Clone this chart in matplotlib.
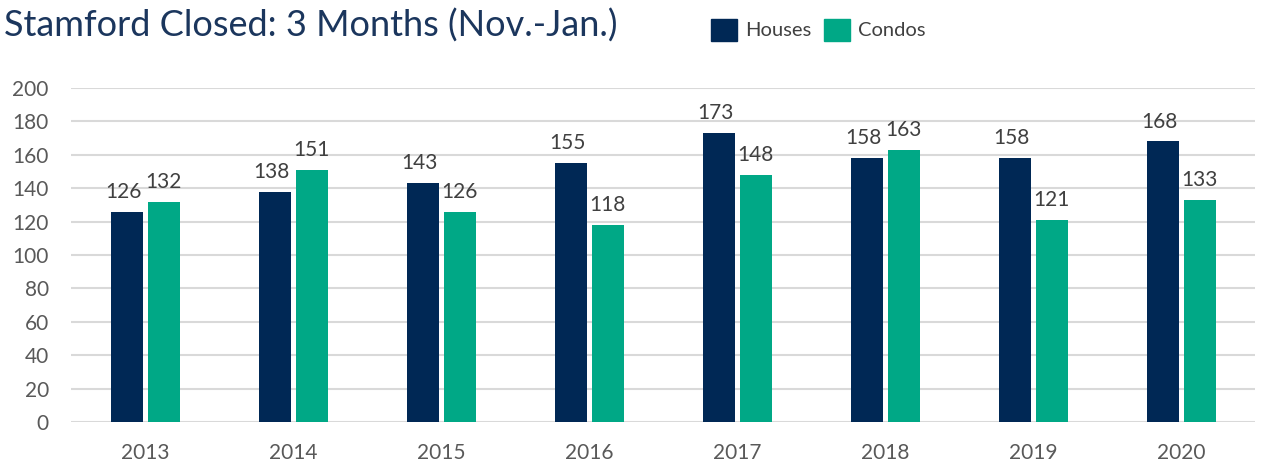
import matplotlib
matplotlib.use("Agg")
import matplotlib.pyplot as plt
import numpy as np
from matplotlib.patches import Patch

years = ["2013", "2014", "2015", "2016", "2017", "2018", "2019", "2020"]
houses = [126, 138, 143, 155, 173, 158, 158, 168]
condos = [132, 151, 126, 118, 148, 163, 121, 133]
title = "Stamford Closed: 3 Months (Nov.-Jan.)"
yticks = [0, 20, 40, 60, 80, 100, 120, 140, 160, 180, 200]

c_h = "#002855"
c_c = "#00A886"
txt = "#404040"

plt.rcParams['font.family'] = ['Lato', 'DejaVu Sans']

fig = plt.figure(figsize=(12.62, 4.62), dpi=100)
ax = fig.add_axes([0.0563, 0.0866, 0.9382, 0.7229])

x = np.arange(len(years))
w = 0.216
off = 0.125
b1 = ax.bar(x - off, houses, w, color=c_h, zorder=3)
b2 = ax.bar(x + off, condos, w, color=c_c, zorder=3)

for rect, v in zip(b1, houses):
    ax.annotate(str(v), (rect.get_x() + rect.get_width() / 2, v), xytext=(-2, 7),
                textcoords="offset points", ha="center", va="bottom", fontsize=15, color=txt)
for rect, v in zip(b2, condos):
    ax.annotate(str(v), (rect.get_x() + rect.get_width() / 2, v), xytext=(0, 7),
                textcoords="offset points", ha="center", va="bottom", fontsize=15, color=txt)

ax.set_xlim(-0.5, len(years) - 0.5)
ax.set_ylim(0, 200)
ax.set_yticks(yticks)
ax.set_xticks(x)
ax.set_xticklabels(years)
ax.tick_params(axis="both", length=0, labelsize=15, labelcolor="#595959")
ax.tick_params(axis="x", pad=15)
ax.tick_params(axis="y", pad=16)
ax.grid(axis="y", color="#d9d9d9", linewidth=1.5, zorder=0)
for s in ax.spines.values():
    s.set_visible(False)

fig.text(0.003, 0.945, title, fontsize=26, color="#1B365D", ha="left", va="center")

handles = [Patch(color=c_h, label="Houses"), Patch(color=c_c, label="Condos")]
fig.legend(handles=handles, loc="center left", bbox_to_anchor=(0.549, 0.936), ncol=2,
           frameon=False, fontsize=14.5, labelcolor=txt, handlelength=1.3, handleheight=1.3,
           handletextpad=0.4, columnspacing=0.6)

fig.savefig("out.png", dpi=100)
